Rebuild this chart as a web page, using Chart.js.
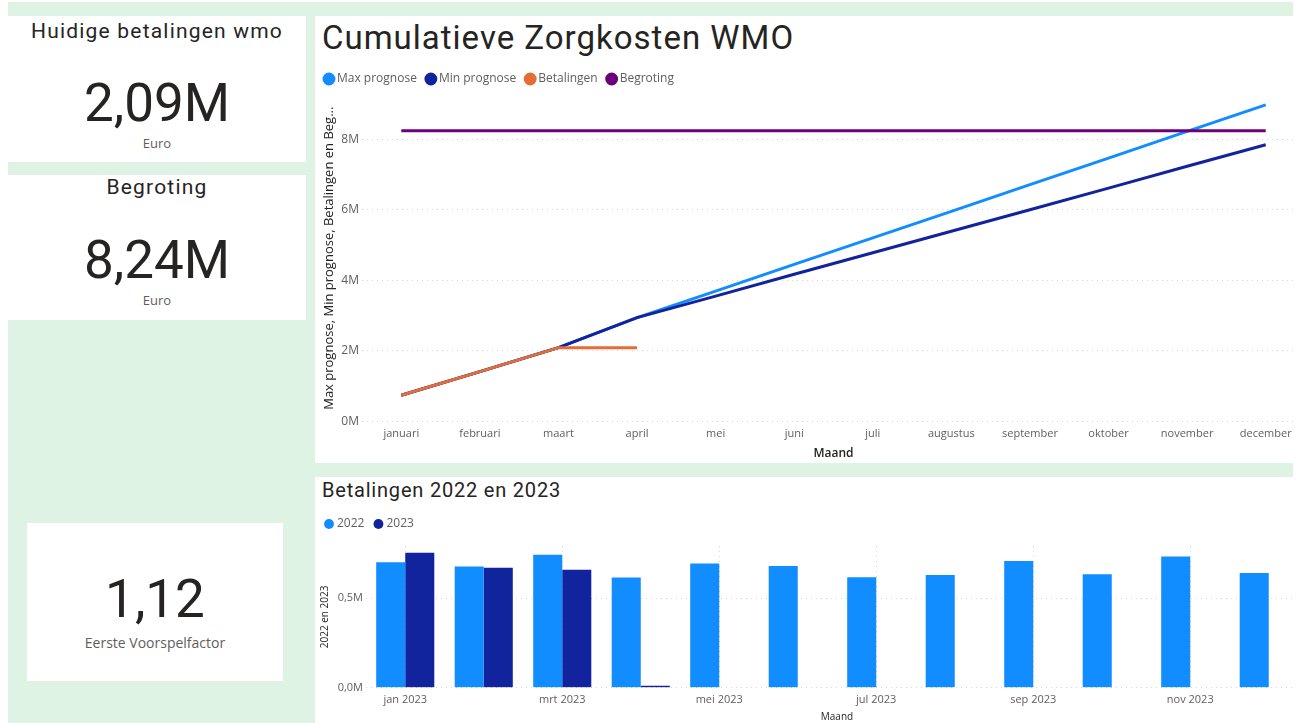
<!DOCTYPE html>
<html>
<head>
<meta charset="utf-8">
<script src="https://cdn.jsdelivr.net/npm/chart.js@4.4.0/dist/chart.umd.min.js"></script>
<style>
  body { margin:0; width:1298px; height:723px; overflow:hidden; position:relative; background:#fff; font-family:Roboto, sans-serif; }
  .bg { position:absolute; left:8px; top:2px; width:1285px; height:721px; background:#dff3e4; }
  .card { position:absolute; background:#fff; text-align:center; color:#252423; }
  .ttl { position:absolute; left:0; right:0; font-size:21px; letter-spacing:1.2px; }
  .big { position:absolute; left:0; right:0; font-size:53px; }
  .sub { position:absolute; left:0; right:0; font-family:"Open Sans", sans-serif; font-size:13px; color:#605e5c; }
  .panel { position:absolute; background:#fff; overflow:hidden; }
  .ptitle { position:absolute; left:7px; color:#252423; white-space:nowrap; }
</style>
</head>
<body>
<div class="bg"></div>

<div class="card" style="left:8px;top:16px;width:298px;height:146px">
  <div class="ttl" style="top:3px">Huidige betalingen wmo</div>
  <div class="big" style="top:56px">2,09M</div>
  <div class="sub" style="top:118px">Euro</div>
</div>
<div class="card" style="left:8px;top:175px;width:298px;height:145px">
  <div class="ttl" style="top:0px">Begroting</div>
  <div class="big" style="top:54px">8,24M</div>
  <div class="sub" style="top:116px">Euro</div>
</div>
<div class="card" style="left:27px;top:523px;width:256px;height:158px">
  <div class="big" style="top:45px">1,12</div>
  <div class="sub" style="top:110px;font-size:14px">Eerste Voorspelfactor</div>
</div>

<div class="panel" style="left:315px;top:16px;width:978px;height:447px">
  <div class="ptitle" style="top:2px;font-size:33px;letter-spacing:1px">Cumulatieve Zorgkosten WMO</div>
  <canvas id="lineChart" style="position:absolute;left:0;top:45px"></canvas>
</div>
<div class="panel" style="left:315px;top:477px;width:978px;height:246px">
  <div class="ptitle" style="top:1px;font-size:20px;letter-spacing:0.8px">Betalingen 2022 en 2023</div>
  <canvas id="barChart" style="position:absolute;left:0;top:29px"></canvas>
</div>

<script>
// cumulatieve kosten per maand
const maanden = ['januari','februari','maart','april','mei','juni','juli','augustus','september','oktober','november','december'];
const maxPrognose = [0.74e6, 1.41e6, 2.09e6, 2.94e6, 3.69e6, 4.45e6, 5.20e6, 5.95e6, 6.71e6, 7.46e6, 8.22e6, 8.97e6];
const minPrognose = [0.74e6, 1.41e6, 2.09e6, 2.94e6, 3.55e6, 4.17e6, 4.78e6, 5.39e6, 6.00e6, 6.61e6, 7.23e6, 7.84e6];
const betalingen = [0.74e6, 1.41e6, 2.09e6, 2.09e6];
const begroting = [8.24e6, 8.24e6, 8.24e6, 8.24e6, 8.24e6, 8.24e6, 8.24e6, 8.24e6, 8.24e6, 8.24e6, 8.24e6, 8.24e6];
const lineTicks = [0, 2e6, 4e6, 6e6, 8e6];

// betalingen per maand
const maandLabels = ['jan 2023','feb 2023','mrt 2023','apr 2023','mei 2023','jun 2023','jul 2023','aug 2023','sep 2023','okt 2023','nov 2023','dec 2023'];
const betalingen2022 = [0.699e6, 0.676e6, 0.741e6, 0.614e6, 0.693e6, 0.678e6, 0.616e6, 0.629e6, 0.706e6, 0.633e6, 0.731e6, 0.640e6];
const betalingen2023 = [0.752e6, 0.669e6, 0.657e6, 0.011e6];
const barTicks = [0, 0.5e6];

const grey = '#605e5c';
const dark = '#252423';
const gridCol = '#d6d6d6';

function makeLine(label, data, color){
  return { label: label, data: data, borderColor: color, backgroundColor: color,
           borderWidth: 3, pointRadius: 0, tension: 0 };
}

const legendLabels = { usePointStyle: true, pointStyle: 'circle', boxWidth: 4, boxHeight: 7,
                       padding: 12, color: grey, font: { family: 'Open Sans', size: 12 } };

// extra ruimte onder de legenda van de staafgrafiek
const legendGap = {
  id: 'legendGap',
  beforeInit(chart) {
    const fit = chart.legend.fit;
    chart.legend.fit = function() { fit.bind(chart.legend)(); this.height += 6; };
  }
};

let lc = document.getElementById('lineChart');
lc.width = 990; lc.height = 402;
lc.style.width = '990px'; lc.style.height = '402px';
new Chart(lc, {
  type: 'line',
  data: {
    labels: maanden,
    // first dataset is drawn on top, legend is reversed
    datasets: [
      makeLine('Begroting', begroting, '#6b007b'),
      makeLine('Betalingen', betalingen, '#e66c37'),
      makeLine('Min prognose', minPrognose, '#12239e'),
      makeLine('Max prognose', maxPrognose, '#118dff')
    ]
  },
  options: {
    responsive: false,
    animation: false,
    layout: { padding: { left: 0, right: 0, top: 0, bottom: 2 } },
    plugins: {
      legend: { position: 'top', align: 'start', reverse: true, labels: legendLabels },
      tooltip: { enabled: false }
    },
    scales: {
      x: {
        offset: true,
        grid: { display: false, drawTicks: false },
        border: { display: false },
        ticks: { color: grey, font: { family: 'Open Sans', size: 11 }, maxRotation: 0, autoSkip: false, padding: 6 },
        title: { display: true, text: 'Maand', color: dark, font: { family: 'Open Sans', size: 12, weight: '600' }, padding: { top: 0, bottom: 0 } }
      },
      y: {
        min: 0, max: 9.25e6,
        afterBuildTicks: s => { s.ticks = lineTicks.map(v => ({ value: v })); },
        afterFit: s => { s.width = 47; },
        grid: { color: gridCol, drawTicks: false },
        border: { display: false, dash: [1, 4] },
        ticks: { color: grey, font: { family: 'Open Sans', size: 12 }, padding: 3,
                 callback: v => (v / 1e6) + 'M' },
        title: { display: true, text: 'Max prognose, Min prognose, Betalingen en Beg...', color: dark,
                 font: { family: 'Open Sans', size: 13 }, padding: { top: 6, bottom: 0 } }
      }
    }
  }
});

let bc = document.getElementById('barChart');
bc.width = 993; bc.height = 217;
bc.style.width = '993px'; bc.style.height = '217px';
new Chart(bc, {
  type: 'bar',
  data: {
    labels: maandLabels,
    datasets: [
      { label: '2022', data: betalingen2022, backgroundColor: '#118dff', categoryPercentage: 0.74, barPercentage: 1 },
      { label: '2023', data: betalingen2023, backgroundColor: '#12239e', categoryPercentage: 0.74, barPercentage: 1 }
    ]
  },
  plugins: [legendGap],
  options: {
    responsive: false,
    animation: false,
    layout: { padding: { left: 0, right: 0, top: 0, bottom: 0 } },
    plugins: {
      legend: { position: 'top', align: 'start', labels: legendLabels },
      tooltip: { enabled: false }
    },
    scales: {
      x: {
        grid: { offset: false, drawTicks: false,
                color: c => (c.index % 2 === 0 ? gridCol : 'rgba(0,0,0,0)') },
        border: { display: false, dash: [1, 4] },
        ticks: { color: grey, font: { family: 'Open Sans', size: 11 }, maxRotation: 0, autoSkip: false, padding: 5,
                 callback: (v, i) => (i % 2 === 0 ? maandLabels[i] : '') },
        title: { display: true, text: 'Maand', color: dark, font: { family: 'Open Sans', size: 10 }, padding: { top: 0, bottom: 0 } }
      },
      y: {
        min: 0, max: 0.79e6,
        afterBuildTicks: s => { s.ticks = barTicks.map(v => ({ value: v })); },
        afterFit: s => { s.width = 51; },
        grid: { color: gridCol, drawTicks: false },
        border: { display: false, dash: [1, 4] },
        ticks: { color: grey, font: { family: 'Open Sans', size: 11 }, padding: 3,
                 callback: v => (v / 1e6).toFixed(1).replace('.', ',') + 'M' },
        title: { display: true, text: '2022 en 2023', color: dark, font: { family: 'Open Sans', size: 10 }, padding: { top: 4, bottom: 0 } }
      }
    }
  }
});
</script>
</body>
</html>
